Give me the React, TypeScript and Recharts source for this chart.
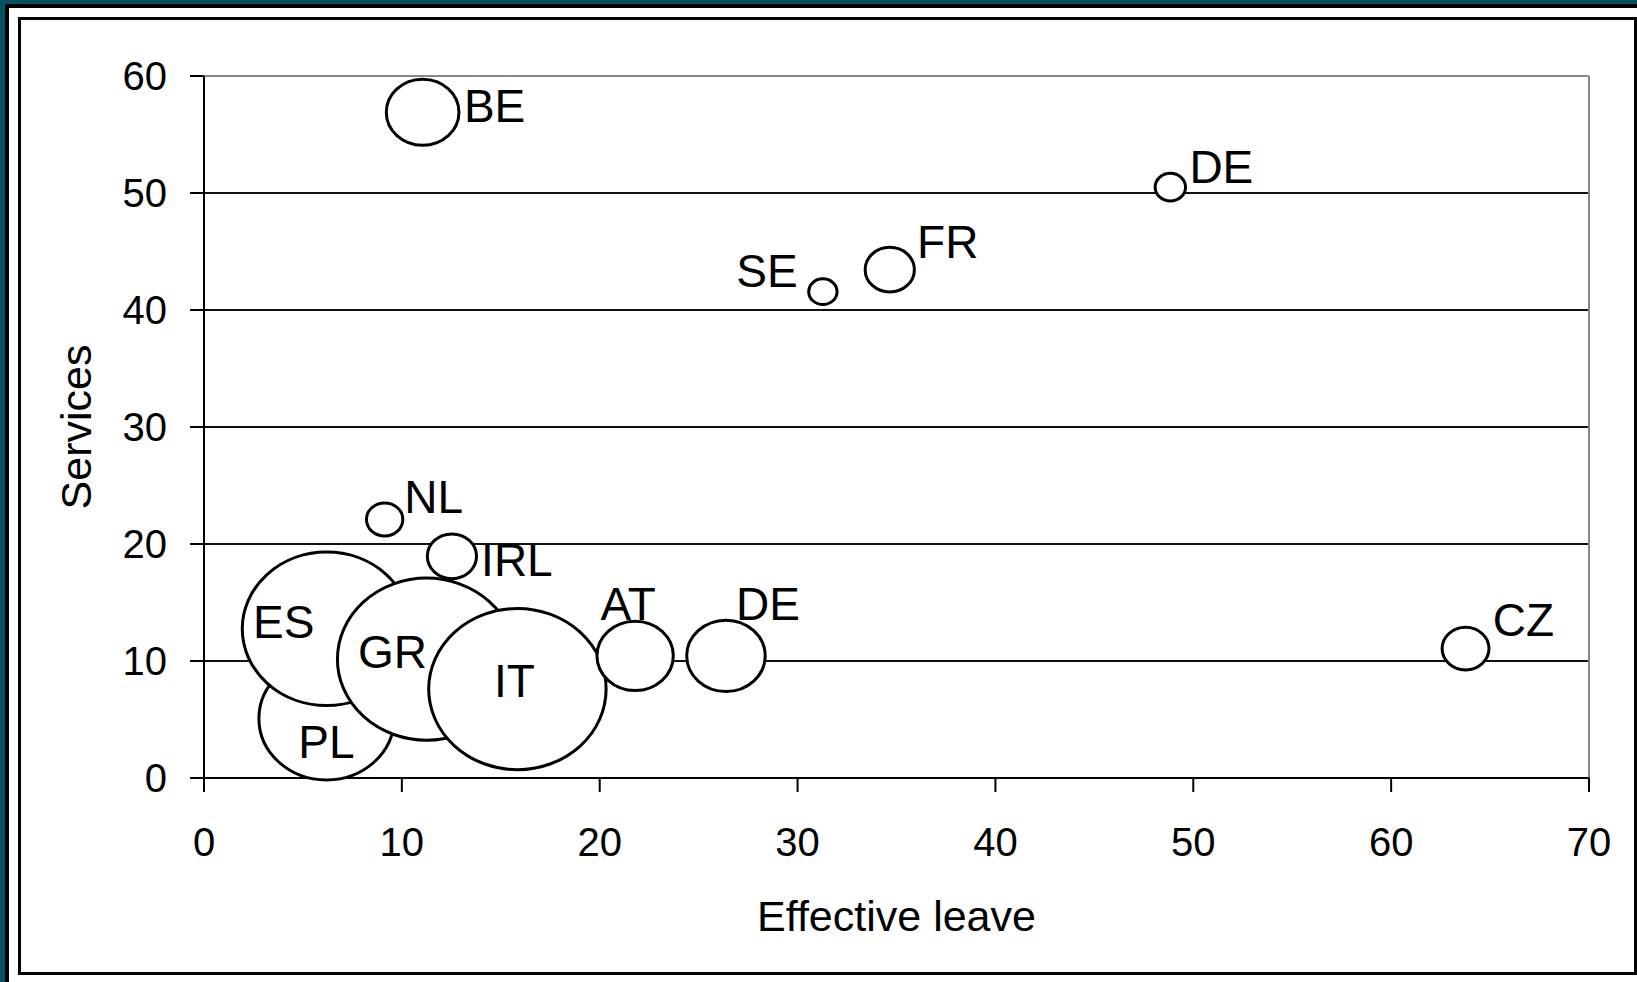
import React from 'react';
import { ScatterChart, Scatter, XAxis, YAxis, ZAxis, CartesianGrid, ReferenceLine } from 'recharts';

// ---- data ----
const countries = ['BE', 'DE', 'SE', 'FR', 'NL', 'PL', 'ES', 'GR', 'IRL', 'IT', 'AT', 'DE', 'CZ'];
const effectiveLeave = [11.05, 48.84, 31.28, 34.66, 9.13, 6.19, 6.2, 11.25, 12.53, 15.84, 21.79, 26.38, 63.76];
const services = [56.9, 50.5, 41.57, 43.45, 22.1, 5.08, 12.75, 10.16, 18.95, 7.6, 10.44, 10.44, 11.06];
const bubbleSize = [4.8, 0.84, 0.73, 2.2, 1.2, 16.6, 25.9, 28.9, 2.2, 28.6, 5.3, 5.6, 2.0];
const xTicks = [0, 10, 20, 30, 40, 50, 60, 70];
const yTicks = [0, 10, 20, 30, 40, 50, 60];

const table = countries.map((name, i) => ({
  idx: i,
  name,
  x: effectiveLeave[i],
  y: services[i],
  z: bubbleSize[i],
}));

// ---- layout ----
const FONT = '"Liberation Sans", Arial, sans-serif';
const ASPECT = 1.049;
const LABEL_OFFSETS: [number, number][] = [
  [72, -6], [51, -20], [-56, -21], [58, -28], [49, -22], [0, 23], [-43, -7],
  [-34, -7], [65, 4], [-3, -8], [-7, -52], [42, -52], [58, -29],
];

const Bubble = (props: any) => {
  const { cx, cy, width, size } = props;
  const r = width != null ? width / 2 : Math.sqrt((size || 0) / Math.PI);
  return (
    <ellipse cx={cx} cy={cy} rx={r * ASPECT} ry={r / ASPECT} fill="#ffffff" stroke="#000000" strokeWidth={3} />
  );
};

const BubbleLabel = (props: any) => {
  const { cx, cy, payload } = props;
  const off = LABEL_OFFSETS[payload.idx] || [0, 0];
  return (
    <text
      x={cx + off[0]}
      y={cy + off[1]}
      textAnchor="middle"
      dominantBaseline="central"
      fontSize={46}
      fontFamily={FONT}
      fill="#000"
    >
      {payload.name}
    </text>
  );
};

const YTitle = (props: any) => {
  const vb = props.viewBox || { x: 104, y: 76, width: 100, height: 702 };
  const x = vb.x + vb.width - 128;
  const y = vb.y + vb.height / 2;
  return (
    <text
      x={x}
      y={y}
      transform={`rotate(-90 ${x} ${y})`}
      textAnchor="middle"
      dominantBaseline="central"
      fontSize={43}
      fontFamily={FONT}
      fill="#000"
    >
      Services
    </text>
  );
};

const XTitle = (props: any) => {
  const vb = props.viewBox || { x: 204, y: 778, width: 1385, height: 100 };
  const x = vb.x + vb.width / 2;
  const y = vb.y + 153;
  return (
    <text x={x} y={y} textAnchor="middle" fontSize={43} fontFamily={FONT} fill="#000">
      Effective leave
    </text>
  );
};

export default function App() {
  return (
    <div style={{ position: 'absolute', left: 0, top: 0, width: 1637, height: 982, overflow: 'hidden', background: '#02535f' }}>
      <div style={{ position: 'absolute', left: 5, top: 4, width: 1700, height: 1100, background: '#000' }} />
      <div style={{ position: 'absolute', left: 9, top: 8, width: 1700, height: 1100, background: '#fff' }} />
      <div
        style={{
          position: 'absolute',
          left: 18,
          top: 17,
          width: 1619,
          height: 958,
          border: '3px solid #000',
          boxSizing: 'border-box',
        }}
      />
      <div style={{ position: 'absolute', left: 0, top: 0 }}>
        <ScatterChart width={1637} height={982} margin={{ top: 76, right: 48, bottom: 104, left: 104 }}>
          <CartesianGrid horizontal vertical={false} stroke="#111" strokeWidth={2} />
          <XAxis
            type="number"
            dataKey="x"
            domain={[0, 70]}
            ticks={xTicks}
            interval={0}
            height={100}
            tickSize={14}
            tickMargin={36}
            axisLine={{ stroke: '#000', strokeWidth: 2 }}
            tickLine={{ stroke: '#000', strokeWidth: 2 }}
            tick={{ fontSize: 40, fontFamily: FONT, fill: '#000' }}
            label={{ content: XTitle }}
          />
          <YAxis
            type="number"
            dataKey="y"
            domain={[0, 60]}
            ticks={yTicks}
            interval={0}
            width={100}
            tickSize={14}
            tickMargin={23}
            axisLine={{ stroke: '#000', strokeWidth: 2 }}
            tickLine={{ stroke: '#000', strokeWidth: 2 }}
            tick={{ fontSize: 40, fontFamily: FONT, fill: '#000' }}
            label={{ content: YTitle }}
          />
          <ZAxis type="number" dataKey="z" domain={[0, 30]} range={[0, 23562]} />
          <ReferenceLine y={60} stroke="#888" strokeWidth={2} />
          <ReferenceLine x={70} stroke="#888" strokeWidth={2} />
          <Scatter data={table} shape={Bubble} isAnimationActive={false} />
          <Scatter data={table} shape={BubbleLabel} isAnimationActive={false} />
        </ScatterChart>
      </div>
    </div>
  );
}
